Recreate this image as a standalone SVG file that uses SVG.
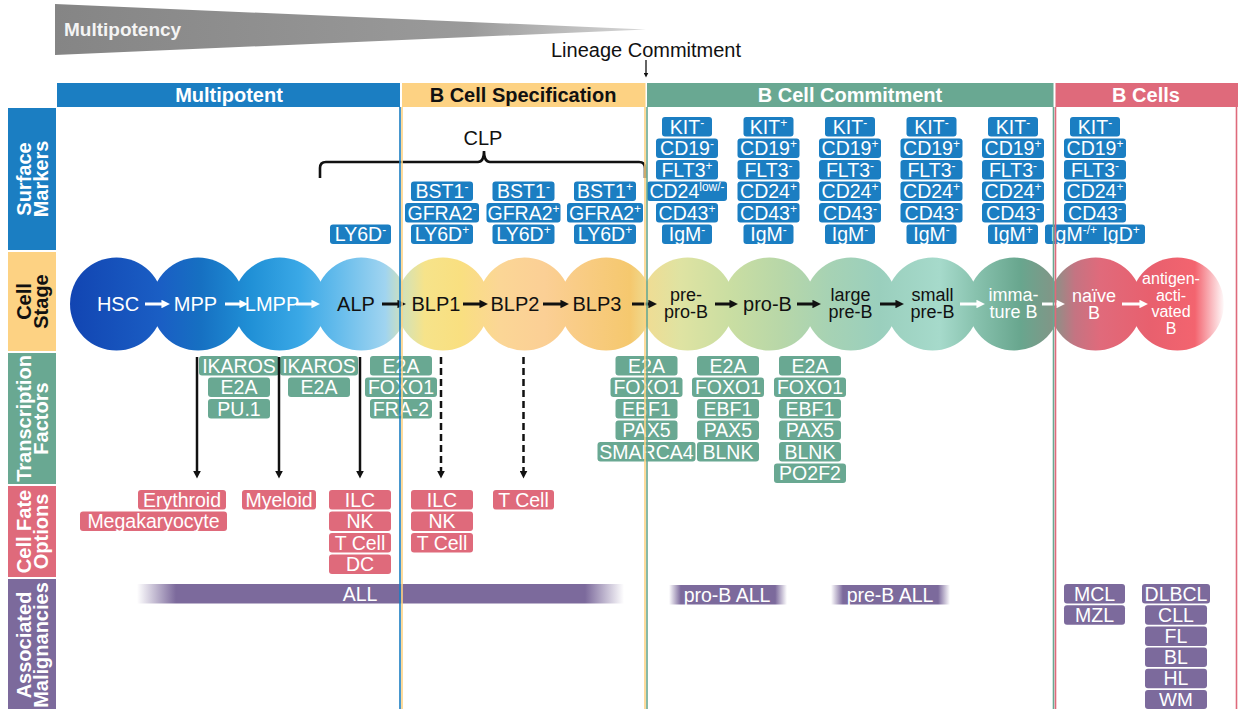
<svg xmlns="http://www.w3.org/2000/svg" width="1238" height="709" viewBox="0 0 1238 709">
<style>
text{font-family:"Liberation Sans",Arial,Helvetica,sans-serif}
.hd{font-size:20px;font-weight:700;text-anchor:middle}
.lab{font-size:20px;font-weight:700;text-anchor:middle}
.w{fill:#fff}
.k{fill:#111}
.bd rect{rx:3px;ry:3px}
.bd text{fill:#fff;font-size:19.5px;text-anchor:middle}
.sm rect{fill:#1b7ec2}
.tf rect{fill:#69a892}
.cf rect{fill:#df6a7b}
.mg rect{fill:#7c6a9c}
.sup{font-size:12px}
.sl{font-size:20px;text-anchor:middle}
.sl2{font-size:18px;text-anchor:middle}
.sl3{font-size:16px;text-anchor:middle}
.ah{stroke-width:3;fill:none}
.va{stroke:#111;stroke-width:2.5;fill:none}
.dash{stroke-dasharray:7 4}
.pb{stroke-width:1.6;fill:none}
</style>
<defs>
<linearGradient id="gTri" x1="0" y1="0" x2="1" y2="0">
<stop offset="0" stop-color="#858585"/><stop offset="0.7" stop-color="#9a9a9a"/><stop offset="1" stop-color="#d8d8d8"/>
</linearGradient>
<linearGradient id="gCell" gradientUnits="userSpaceOnUse" x1="70" y1="0" x2="1225" y2="0">
<stop offset="0" stop-color="#1245b2"/>
<stop offset="0.078" stop-color="#1a5ec4"/>
<stop offset="0.113" stop-color="#1670c2"/>
<stop offset="0.156" stop-color="#2090d6"/>
<stop offset="0.199" stop-color="#3aa8e6"/>
<stop offset="0.234" stop-color="#68bdec"/>
<stop offset="0.273" stop-color="#a0d4f0"/>
<stop offset="0.290" stop-color="#d6e2b4"/>
<stop offset="0.307" stop-color="#f6e38a"/>
<stop offset="0.338" stop-color="#f9df80"/>
<stop offset="0.372" stop-color="#fbd696"/>
<stop offset="0.411" stop-color="#fbcf95"/>
<stop offset="0.450" stop-color="#f8cb80"/>
<stop offset="0.485" stop-color="#f5c86e"/>
<stop offset="0.502" stop-color="#eedd95"/>
<stop offset="0.528" stop-color="#dfe3a2"/>
<stop offset="0.571" stop-color="#cadea2"/>
<stop offset="0.615" stop-color="#b8d7a8"/>
<stop offset="0.658" stop-color="#a6d2b4"/>
<stop offset="0.701" stop-color="#9acfbd"/>
<stop offset="0.753" stop-color="#a6dacb"/>
<stop offset="0.784" stop-color="#88c2ae"/>
<stop offset="0.823" stop-color="#68a68e"/>
<stop offset="0.848" stop-color="#7e9888"/>
<stop offset="0.870" stop-color="#c47482"/>
<stop offset="0.892" stop-color="#e06a7b"/>
<stop offset="0.935" stop-color="#e8606e"/>
<stop offset="0.974" stop-color="#f3646f"/>
<stop offset="1" stop-color="#ffffff"/>
</linearGradient>
<linearGradient id="gAll" x1="0" y1="0" x2="1" y2="0">
<stop offset="0" stop-color="#7c6a9c" stop-opacity="0"/><stop offset="0.08" stop-color="#7c6a9c"/><stop offset="0.92" stop-color="#7c6a9c"/><stop offset="1" stop-color="#7c6a9c" stop-opacity="0"/>
</linearGradient>
<linearGradient id="gAllS" x1="0" y1="0" x2="1" y2="0">
<stop offset="0" stop-color="#7c6a9c" stop-opacity="0"/><stop offset="0.1" stop-color="#7c6a9c"/><stop offset="0.9" stop-color="#7c6a9c"/><stop offset="1" stop-color="#7c6a9c" stop-opacity="0"/>
</linearGradient>
<marker id="aw" viewBox="0 0 10 10" refX="3" refY="5" markerWidth="8.5" markerHeight="8.5" markerUnits="userSpaceOnUse" orient="auto"><path d="M0,0L10,5L0,10z" fill="#fff"/></marker>
<marker id="ab" viewBox="0 0 10 10" refX="3" refY="5" markerWidth="8.5" markerHeight="8.5" markerUnits="userSpaceOnUse" orient="auto"><path d="M0,0L10,5L0,10z" fill="#111"/></marker>
<marker id="av" viewBox="0 0 10 10" refX="3" refY="5" markerWidth="8" markerHeight="8" markerUnits="userSpaceOnUse" orient="auto"><path d="M0,0L10,5L0,10z" fill="#111"/></marker>
<marker id="as" viewBox="0 0 10 10" refX="3" refY="5" markerWidth="5" markerHeight="5" markerUnits="userSpaceOnUse" orient="auto"><path d="M0,0L10,5L0,10z" fill="#111"/></marker>
</defs>
<rect width="1238" height="709" fill="#fff"/>

<g id="multipotency">
<polygon points="55,4 646,29.5 55,55" fill="url(#gTri)"/>
<text x="64" y="36" font-size="19" font-weight="700" fill="#f4f4f4">Multipotency</text>
</g>
<g id="lineage-commitment">
<text x="646" y="57" font-size="20" text-anchor="middle" fill="#111">Lineage Commitment</text>
</g>

<g id="headers">
<rect x="57" y="83" width="343" height="24" fill="#1b7ec2"/>
<text class="hd w" x="229" y="102">Multipotent</text>
<rect x="402" y="83" width="243.5" height="24" fill="#fdd283"/>
<text class="hd k" x="523" y="102">B Cell Specification</text>
<rect x="647" y="83" width="406.5" height="24" fill="#69a892"/>
<text class="hd w" x="850" y="102">B Cell Commitment</text>
<rect x="1055.5" y="83" width="182.5" height="24" fill="#df6a7b"/>
<text class="hd w" x="1146" y="102">B Cells</text>
</g>

<g id="row-labels">
<rect x="8" y="108" width="48" height="142" fill="#1b7ec2"/>
<text class="lab w" transform="translate(32,179) rotate(-90)"><tspan x="0" y="-1">Surface</tspan><tspan x="0" y="16">Markers</tspan></text>
<rect x="8" y="252" width="48" height="99" fill="#fdd283"/>
<text class="lab k" transform="translate(32,301.5) rotate(-90)"><tspan x="0" y="-1">Cell</tspan><tspan x="0" y="16">Stage</tspan></text>
<rect x="8" y="353" width="48" height="131" fill="#69a892"/>
<text class="lab w" transform="translate(32,418.5) rotate(-90)" font-size="19.5"><tspan x="0" y="-1">Transcription</tspan><tspan x="0" y="16">Factors</tspan></text>
<rect x="8" y="486" width="48" height="91" fill="#df6a7b"/>
<text class="lab w" transform="translate(32,531.5) rotate(-90)"><tspan x="0" y="-1">Cell Fate</tspan><tspan x="0" y="16">Options</tspan></text>
<rect x="8" y="579" width="48" height="130" fill="#7c6a9c"/>
<text class="lab w" transform="translate(32,645) rotate(-90)"><tspan x="0" y="-1">Associated</tspan><tspan x="0" y="16">Malignancies</tspan></text>
</g>

<g id="clp">
<path d="M320,178V168Q320,162 326,162H478Q484,162 484,151Q484,162 490,162H639Q645,162 645,168V178" fill="none" stroke="#111" stroke-width="2.6"/>
<text x="483" y="145" font-size="20" text-anchor="middle" fill="#111">CLP</text>
</g>

<g id="surface-markers">
<g id="sm-alp" class="bd sm">
<rect x="330" y="224.5" width="61" height="19.5"/><text x="360.5" y="241">LY6D<tspan class="sup" dy="-7">-</tspan></text>
</g>
<g id="sm-blp1" class="bd sm">
<rect x="411" y="181.5" width="62" height="19.5"/><text x="442" y="198">BST1<tspan class="sup" dy="-7">-</tspan></text>
<rect x="405" y="203" width="74" height="19.5"/><text x="442" y="219.5">GFRA2<tspan class="sup" dy="-7">-</tspan></text>
<rect x="411" y="224.5" width="62" height="19.5"/><text x="442" y="241">LY6D<tspan class="sup" dy="-7">+</tspan></text>
</g>
<g id="sm-blp2" class="bd sm">
<rect x="492.5" y="181.5" width="62" height="19.5"/><text x="523.5" y="198">BST1<tspan class="sup" dy="-7">-</tspan></text>
<rect x="486.5" y="203" width="74" height="19.5"/><text x="523.5" y="219.5">GFRA2<tspan class="sup" dy="-7">+</tspan></text>
<rect x="492.5" y="224.5" width="62" height="19.5"/><text x="523.5" y="241">LY6D<tspan class="sup" dy="-7">+</tspan></text>
</g>
<g id="sm-blp3" class="bd sm">
<rect x="574" y="181.5" width="62" height="19.5"/><text x="605" y="198">BST1<tspan class="sup" dy="-7">+</tspan></text>
<rect x="567" y="203" width="76" height="19.5"/><text x="605" y="219.5">GFRA2<tspan class="sup" dy="-7">+</tspan></text>
<rect x="574" y="224.5" width="62" height="19.5"/><text x="605" y="241">LY6D<tspan class="sup" dy="-7">+</tspan></text>
</g>
<g id="sm-prepro" class="bd sm">
<rect x="662" y="117" width="50" height="19.5"/><text x="687" y="133.5">KIT<tspan class="sup" dy="-7">-</tspan></text>
<rect x="656" y="138.5" width="62" height="19.5"/><text x="687" y="155">CD19<tspan class="sup" dy="-7">-</tspan></text>
<rect x="656" y="160" width="62" height="19.5"/><text x="687" y="176.5">FLT3<tspan class="sup" dy="-7">+</tspan></text>
<rect x="647" y="181.5" width="80" height="19.5"/><text x="687" y="198">CD24<tspan class="sup" dy="-7">low/-</tspan></text>
<rect x="656" y="203" width="62" height="19.5"/><text x="687" y="219.5">CD43<tspan class="sup" dy="-7">+</tspan></text>
<rect x="662" y="224.5" width="50" height="19.5"/><text x="687" y="241">IgM<tspan class="sup" dy="-7">-</tspan></text>
</g>
<g id="sm-prob" class="bd sm">
<rect x="743.5" y="117" width="50" height="19.5"/><text x="768.5" y="133.5">KIT<tspan class="sup" dy="-7">+</tspan></text>
<rect x="737.5" y="138.5" width="62" height="19.5"/><text x="768.5" y="155">CD19<tspan class="sup" dy="-7">+</tspan></text>
<rect x="737.5" y="160" width="62" height="19.5"/><text x="768.5" y="176.5">FLT3<tspan class="sup" dy="-7">-</tspan></text>
<rect x="737.5" y="181.5" width="62" height="19.5"/><text x="768.5" y="198">CD24<tspan class="sup" dy="-7">+</tspan></text>
<rect x="737.5" y="203" width="62" height="19.5"/><text x="768.5" y="219.5">CD43<tspan class="sup" dy="-7">+</tspan></text>
<rect x="743.5" y="224.5" width="50" height="19.5"/><text x="768.5" y="241">IgM<tspan class="sup" dy="-7">-</tspan></text>
</g>
<g id="sm-largepreb" class="bd sm">
<rect x="825" y="117" width="50" height="19.5"/><text x="850" y="133.5">KIT<tspan class="sup" dy="-7">-</tspan></text>
<rect x="819" y="138.5" width="62" height="19.5"/><text x="850" y="155">CD19<tspan class="sup" dy="-7">+</tspan></text>
<rect x="819" y="160" width="62" height="19.5"/><text x="850" y="176.5">FLT3<tspan class="sup" dy="-7">-</tspan></text>
<rect x="819" y="181.5" width="62" height="19.5"/><text x="850" y="198">CD24<tspan class="sup" dy="-7">+</tspan></text>
<rect x="819" y="203" width="62" height="19.5"/><text x="850" y="219.5">CD43<tspan class="sup" dy="-7">-</tspan></text>
<rect x="825" y="224.5" width="50" height="19.5"/><text x="850" y="241">IgM<tspan class="sup" dy="-7">-</tspan></text>
</g>
<g id="sm-smallpreb" class="bd sm">
<rect x="906.5" y="117" width="50" height="19.5"/><text x="931.5" y="133.5">KIT<tspan class="sup" dy="-7">-</tspan></text>
<rect x="900.5" y="138.5" width="62" height="19.5"/><text x="931.5" y="155">CD19<tspan class="sup" dy="-7">+</tspan></text>
<rect x="900.5" y="160" width="62" height="19.5"/><text x="931.5" y="176.5">FLT3<tspan class="sup" dy="-7">-</tspan></text>
<rect x="900.5" y="181.5" width="62" height="19.5"/><text x="931.5" y="198">CD24<tspan class="sup" dy="-7">+</tspan></text>
<rect x="900.5" y="203" width="62" height="19.5"/><text x="931.5" y="219.5">CD43<tspan class="sup" dy="-7">-</tspan></text>
<rect x="906.5" y="224.5" width="50" height="19.5"/><text x="931.5" y="241">IgM<tspan class="sup" dy="-7">-</tspan></text>
</g>
<g id="sm-immature" class="bd sm">
<rect x="988" y="117" width="50" height="19.5"/><text x="1013" y="133.5">KIT<tspan class="sup" dy="-7">-</tspan></text>
<rect x="982" y="138.5" width="62" height="19.5"/><text x="1013" y="155">CD19<tspan class="sup" dy="-7">+</tspan></text>
<rect x="982" y="160" width="62" height="19.5"/><text x="1013" y="176.5">FLT3<tspan class="sup" dy="-7">-</tspan></text>
<rect x="982" y="181.5" width="62" height="19.5"/><text x="1013" y="198">CD24<tspan class="sup" dy="-7">+</tspan></text>
<rect x="982" y="203" width="62" height="19.5"/><text x="1013" y="219.5">CD43<tspan class="sup" dy="-7">-</tspan></text>
<rect x="988" y="224.5" width="50" height="19.5"/><text x="1013" y="241">IgM<tspan class="sup" dy="-7">+</tspan></text>
</g>
<g id="sm-bcell" class="bd sm">
<rect x="1070" y="117" width="50" height="19.5"/><text x="1095" y="133.5">KIT<tspan class="sup" dy="-7">-</tspan></text>
<rect x="1064" y="138.5" width="62" height="19.5"/><text x="1095" y="155">CD19<tspan class="sup" dy="-7">+</tspan></text>
<rect x="1064" y="160" width="62" height="19.5"/><text x="1095" y="176.5">FLT3<tspan class="sup" dy="-7">-</tspan></text>
<rect x="1064" y="181.5" width="62" height="19.5"/><text x="1095" y="198">CD24<tspan class="sup" dy="-7">+</tspan></text>
<rect x="1064" y="203" width="62" height="19.5"/><text x="1095" y="219.5">CD43<tspan class="sup" dy="-7">-</tspan></text>
<rect x="1045" y="224.5" width="100" height="19.5"/><text x="1095" y="241">IgM<tspan class="sup" dy="-7">-/+</tspan><tspan dy="7">&#160;IgD</tspan><tspan class="sup" dy="-7">+</tspan></text>
</g>
</g>

<g id="cell-stages">
<g id="hsc"><circle cx="116.5" cy="304" r="46.5" fill="url(#gCell)"/><text class="sl w" x="118" y="311">HSC</text></g>
<g id="mpp"><circle cx="198.1" cy="304" r="46.5" fill="url(#gCell)"/><text class="sl w" x="195.5" y="311">MPP</text></g>
<g id="lmpp"><circle cx="279.7" cy="304" r="46.5" fill="url(#gCell)"/><text class="sl w" x="272" y="311">LMPP</text></g>
<g id="alp"><circle cx="361.3" cy="304" r="46.5" fill="url(#gCell)"/><text class="sl k" x="356" y="311">ALP</text></g>
<g id="blp1"><circle cx="442.9" cy="304" r="46.5" fill="url(#gCell)"/><text class="sl k" x="436" y="311">BLP1</text></g>
<g id="blp2"><circle cx="524.5" cy="304" r="46.5" fill="url(#gCell)"/><text class="sl k" x="515" y="311">BLP2</text></g>
<g id="blp3"><circle cx="606.1" cy="304" r="46.5" fill="url(#gCell)"/><text class="sl k" x="597" y="311">BLP3</text></g>
<g id="pre-pro-b"><circle cx="687.7" cy="304" r="46.5" fill="url(#gCell)"/><text class="sl2 k"><tspan x="686" y="301">pre-</tspan><tspan x="686" y="318">pro-B</tspan></text></g>
<g id="pro-b"><circle cx="769.3" cy="304" r="46.5" fill="url(#gCell)"/><text class="sl k" x="767.5" y="311">pro-B</text></g>
<g id="large-pre-b"><circle cx="850.9" cy="304" r="46.5" fill="url(#gCell)"/><text class="sl2 k"><tspan x="850.5" y="301">large</tspan><tspan x="850.5" y="318">pre-B</tspan></text></g>
<g id="small-pre-b"><circle cx="932.5" cy="304" r="46.5" fill="url(#gCell)"/><text class="sl2 k"><tspan x="932.5" y="301">small</tspan><tspan x="932.5" y="318">pre-B</tspan></text></g>
<g id="immature-b"><circle cx="1014.1" cy="304" r="46.5" fill="url(#gCell)"/><text class="sl2 w"><tspan x="1013.5" y="301">imma-</tspan><tspan x="1013.5" y="318">ture B</tspan></text></g>
<g id="naive-b"><circle cx="1095.7" cy="304" r="46.5" fill="url(#gCell)"/><text class="sl2 w"><tspan x="1094" y="302">naïve</tspan><tspan x="1094" y="319">B</tspan></text></g>
<g id="antigen-activated-b"><circle cx="1177.3" cy="304" r="46.5" fill="url(#gCell)"/><text class="sl3 w"><tspan x="1171" y="284">antigen-</tspan><tspan x="1171" y="300.5">acti-</tspan><tspan x="1171" y="317">vated</tspan><tspan x="1171" y="333.5">B</tspan></text></g>
</g>

<g id="transcription-factors">
<g id="tf-mpp" class="bd tf">
<rect x="199" y="356" width="80" height="19.5"/><text x="239" y="372.5">IKAROS</text>
<rect x="208" y="377.5" width="62" height="19.5"/><text x="239" y="394">E2A</text>
<rect x="208" y="399" width="62" height="19.5"/><text x="239" y="415.5">PU.1</text>
</g>
<g id="tf-lmpp" class="bd tf">
<rect x="280" y="356" width="78" height="19.5"/><text x="319" y="372.5">IKAROS</text>
<rect x="288" y="377.5" width="62" height="19.5"/><text x="319" y="394">E2A</text>
</g>
<g id="tf-alp" class="bd tf">
<rect x="370" y="356" width="62" height="19.5"/><text x="401" y="372.5">E2A</text>
<rect x="365" y="377.5" width="72" height="19.5"/><text x="401" y="394">FOXO1</text>
<rect x="370" y="399" width="62" height="19.5"/><text x="401" y="415.5">FRA-2</text>
</g>
<g id="tf-prepro" class="bd tf">
<rect x="615.5" y="356" width="62" height="19.5"/><text x="646.5" y="372.5">E2A</text>
<rect x="610.5" y="377.5" width="72" height="19.5"/><text x="646.5" y="394">FOXO1</text>
<rect x="615.5" y="399" width="62" height="19.5"/><text x="646.5" y="415.5">EBF1</text>
<rect x="615.5" y="420.5" width="62" height="19.5"/><text x="646.5" y="437">PAX5</text>
<rect x="597.5" y="442" width="98" height="19.5"/><text x="646.5" y="458.5">SMARCA4</text>
</g>
<g id="tf-prob" class="bd tf">
<rect x="697" y="356" width="62" height="19.5"/><text x="728" y="372.5">E2A</text>
<rect x="692" y="377.5" width="72" height="19.5"/><text x="728" y="394">FOXO1</text>
<rect x="697" y="399" width="62" height="19.5"/><text x="728" y="415.5">EBF1</text>
<rect x="697" y="420.5" width="62" height="19.5"/><text x="728" y="437">PAX5</text>
<rect x="697" y="442" width="62" height="19.5"/><text x="728" y="458.5">BLNK</text>
</g>
<g id="tf-largepreb" class="bd tf">
<rect x="779" y="356" width="62" height="19.5"/><text x="810" y="372.5">E2A</text>
<rect x="774" y="377.5" width="72" height="19.5"/><text x="810" y="394">FOXO1</text>
<rect x="779" y="399" width="62" height="19.5"/><text x="810" y="415.5">EBF1</text>
<rect x="779" y="420.5" width="62" height="19.5"/><text x="810" y="437">PAX5</text>
<rect x="779" y="442" width="62" height="19.5"/><text x="810" y="458.5">BLNK</text>
<rect x="774" y="463.5" width="72" height="19.5"/><text x="810" y="480">PO2F2</text>
</g>
</g>

<g id="cell-fates">
<g id="cf-hsc" class="bd cf">
<rect x="138" y="490" width="88" height="19.5"/><text x="182" y="506.5">Erythroid</text>
<rect x="80" y="511.5" width="147" height="19.5"/><text x="153.5" y="528">Megakaryocyte</text>
</g>
<g id="cf-mpp" class="bd cf">
<rect x="242" y="490" width="74" height="19.5"/><text x="279" y="506.5">Myeloid</text>
</g>
<g id="cf-lmpp" class="bd cf">
<rect x="329" y="490" width="62" height="19.5"/><text x="360" y="506.5">ILC</text>
<rect x="329" y="511.5" width="62" height="19.5"/><text x="360" y="528">NK</text>
<rect x="329" y="533" width="62" height="19.5"/><text x="360" y="549.5">T Cell</text>
<rect x="329" y="554.5" width="62" height="19.5"/><text x="360" y="571">DC</text>
</g>
<g id="cf-alp" class="bd cf">
<rect x="411" y="490" width="62" height="19.5"/><text x="442" y="506.5">ILC</text>
<rect x="411" y="511.5" width="62" height="19.5"/><text x="442" y="528">NK</text>
<rect x="411" y="533" width="62" height="19.5"/><text x="442" y="549.5">T Cell</text>
</g>
<g id="cf-blp" class="bd cf">
<rect x="493" y="490" width="61" height="19.5"/><text x="523.5" y="506.5">T Cell</text>
</g>
</g>

<g id="malignancies">
<g id="mg-all" class="bd mg">
<rect x="137" y="584" width="487" height="19.5" style="fill:url(#gAll);rx:0"/><text x="360" y="600.5">ALL</text>
</g>
<g id="mg-proball" class="bd mg">
<rect x="669" y="585" width="118" height="19.5" style="fill:url(#gAllS);rx:0"/><text x="727" y="601.5">pro-B ALL</text>
</g>
<g id="mg-preball" class="bd mg">
<rect x="831" y="585" width="119" height="19.5" style="fill:url(#gAllS);rx:0"/><text x="890" y="601.5">pre-B ALL</text>
</g>
<g id="mg-bcell1" class="bd mg">
<rect x="1064" y="584" width="61" height="19.5"/><text x="1094.5" y="600.5">MCL</text>
<rect x="1064" y="605.2" width="61" height="19.5"/><text x="1094.5" y="621.7">MZL</text>
</g>
<g id="mg-bcell2" class="bd mg">
<rect x="1142" y="584" width="68" height="19.5"/><text x="1176" y="600.5">DLBCL</text>
<rect x="1145" y="605.2" width="62" height="19.5"/><text x="1176" y="621.7">CLL</text>
<rect x="1145" y="626.4" width="62" height="19.5"/><text x="1176" y="642.9">FL</text>
<rect x="1145" y="647.6" width="62" height="19.5"/><text x="1176" y="664.1">BL</text>
<rect x="1145" y="668.8" width="62" height="19.5"/><text x="1176" y="685.3">HL</text>
<rect x="1145" y="690" width="62" height="19"/><text x="1176" y="705.5" style="font-size:19px">WM</text>
</g>
</g>

<g id="connectors">
<line x1="646" y1="60" x2="646" y2="74" stroke="#111" stroke-width="1.3" marker-end="url(#as)"/>
<g stroke="#fff" class="ah">
<line x1="145" y1="304" x2="164" y2="304" marker-end="url(#aw)"/>
<line x1="225" y1="304" x2="242" y2="304" marker-end="url(#aw)"/>
<line x1="296" y1="304" x2="314" y2="304" marker-end="url(#aw)"/>
<line x1="960" y1="304" x2="979" y2="304" marker-end="url(#aw)"/>
<line x1="1042" y1="304" x2="1059" y2="304" marker-end="url(#aw)"/>
<line x1="1122" y1="304" x2="1142" y2="304" marker-end="url(#aw)"/>
</g>
<g stroke="#111" class="ah">
<line x1="382" y1="304" x2="400" y2="304" marker-end="url(#ab)"/>
<line x1="463" y1="304" x2="482" y2="304" marker-end="url(#ab)"/>
<line x1="543" y1="304" x2="563" y2="304" marker-end="url(#ab)"/>
<line x1="632" y1="304" x2="651" y2="304" marker-end="url(#ab)"/>
<line x1="715" y1="304" x2="732" y2="304" marker-end="url(#ab)"/>
<line x1="797" y1="304" x2="815" y2="304" marker-end="url(#ab)"/>
<line x1="880" y1="304" x2="898" y2="304" marker-end="url(#ab)"/>
</g>
<line class="va" x1="197" y1="357" x2="197" y2="473" marker-end="url(#av)"/>
<line class="va" x1="279" y1="357" x2="279" y2="473" marker-end="url(#av)"/>
<line class="va" x1="360" y1="357" x2="360" y2="473" marker-end="url(#av)"/>
<line class="va dash" x1="441" y1="357" x2="441" y2="473" marker-end="url(#av)"/>
<line class="va dash" x1="523.5" y1="357" x2="523.5" y2="473" marker-end="url(#av)"/>
</g>

<g id="panel-borders">
<line class="pb" x1="400" y1="107" x2="400" y2="709" stroke="#1b7ec2"/>
<line class="pb" x1="402" y1="107" x2="402" y2="709" stroke="#fdd283"/>
<line class="pb" x1="645" y1="107" x2="645" y2="709" stroke="#fdd283"/>
<line class="pb" x1="647" y1="107" x2="647" y2="709" stroke="#69a892"/>
<line class="pb" x1="1053.5" y1="107" x2="1053.5" y2="709" stroke="#69a892"/>
<line class="pb" x1="1055.5" y1="107" x2="1055.5" y2="709" stroke="#df6a7b"/>
<line class="pb" x1="1236.5" y1="107" x2="1236.5" y2="709" stroke="#df6a7b"/>
</g>
</svg>
